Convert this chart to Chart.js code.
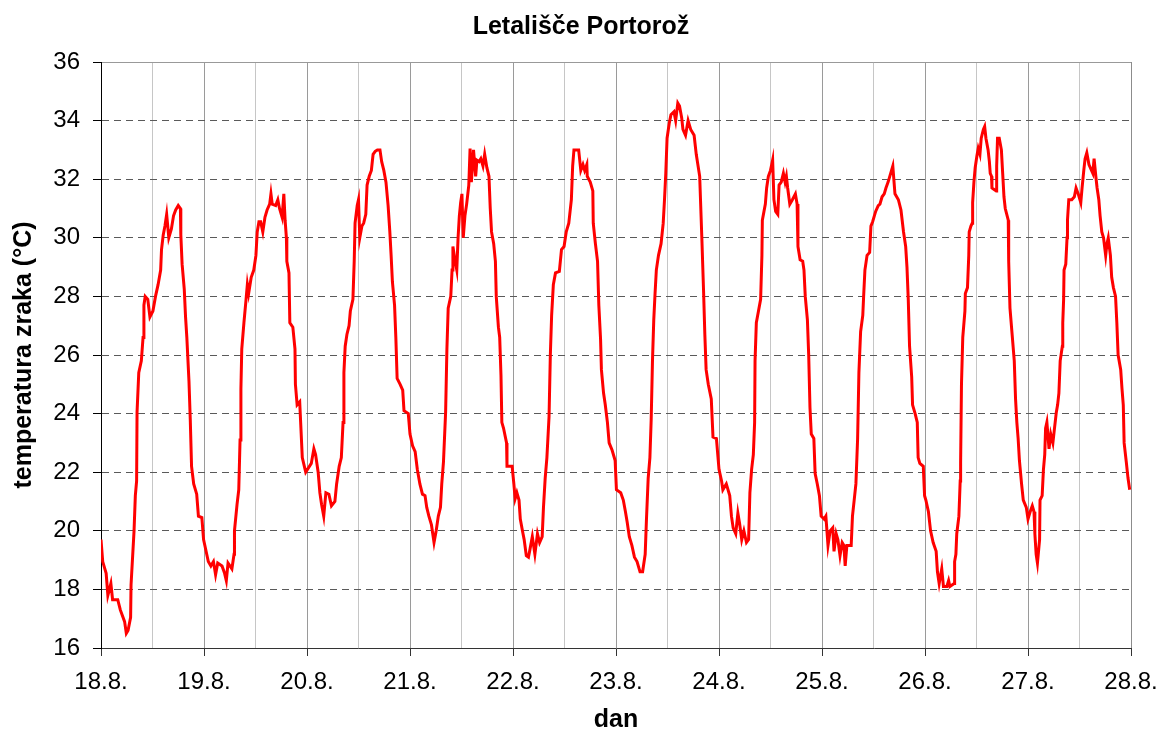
<!DOCTYPE html>
<html>
<head>
<meta charset="utf-8">
<script src="https://cdn.jsdelivr.net/npm/chart.js@4/dist/chart.umd.min.js"></script>
<style>
body { margin: 0; background: #fff; }
canvas { display: block; }
</style>
</head>
<body>
<canvas id="graf" width="1162" height="733"></canvas>
<script>
/* =========================
   DATA
========================= */

// x-axis labels (one per day)
const dni = ["18.8.","19.8.","20.8.","21.8.","22.8.","23.8.","24.8.","25.8.","26.8.","27.8.","28.8."];

// hours since 18.8. 00:00
const ure = [
0,0.4,1.2,1.6,2.3,2.7,3.9,4.5,5.5,5.9,6.3,6.9,7.0,7.7,8.0,8.3,8.4,8.8,9.4,9.8,
10.0,10.3,10.9,11.4,12.1,12.7,13.3,13.9,14.1,14.5,14.9,15.3,15.8,16.4,16.9,17.4,18.0,18.5,18.6,18.9,
19.4,19.7,20.0,20.5,20.8,21.1,21.6,22.3,22.7,23.5,23.9,24.2,25.0,25.6,26.2,26.7,27.2,28.2,28.8,29.2,
29.6,30.5,31.0,31.1,31.7,32.1,32.4,32.6,32.8,33.3,33.8,34.1,34.4,35.0,35.6,36.1,36.4,36.8,37.2,37.7,
38.2,38.7,39.3,39.6,39.9,40.7,41.2,41.6,42.2,42.6,42.9,43.2,43.3,43.8,44.0,44.7,45.2,45.3,45.7,
46.3,46.9,47.7,49.0,49.6,50.0,50.6,51.0,51.4,51.9,52.4,53.1,53.7,54.5,54.9,55.5,56.0,56.4,56.6,56.9,
57.3,57.8,58.1,58.7,59.0,59.2,59.7,60.0,60.3,60.8,61.2,61.7,62.0,62.5,63.0,63.4,63.9,64.4,65.0,65.4,
65.9,66.4,66.9,67.3,67.6,67.9,68.4,68.7,69.0,69.7,70.3,70.6,71.6,72.0,72.6,73.2,73.7,74.3,74.9,75.5,
75.9,76.4,77.0,77.6,78.1,78.6,79.1,79.4,79.8,80.3,80.6,80.9,81.5,81.8,82.0,82.4,82.9,83.2,83.5,83.8,
84.1,84.4,84.8,85.2,85.7,86.0,86.3,86.8,87.3,87.6,88.1,88.5,89.0,89.4,89.9,90.4,90.7,91.0,91.5,91.9,
92.1,92.6,92.9,93.2,93.4,93.8,94.5,94.6,95.8,96.2,96.5,96.9,97.4,97.7,98.2,98.6,99.1,99.6,100.0,100.5,
101.1,101.7,102.2,102.8,103.1,103.5,103.9,104.4,104.7,105.0,105.4,105.9,106.8,107.3,107.9,108.4,109.0,109.6,109.9,110.2,
111.3,111.8,112.3,112.7,113.2,113.3,114.0,114.6,114.7,115.2,115.7,116.0,116.4,116.6,117.1,117.5,118.0,118.4,119.1,119.8,
120.1,121.1,121.7,122.2,122.6,123.1,123.7,124.3,124.9,125.6,126.2,126.8,127.1,127.5,127.9,128.2,128.5,128.8,129.1,129.4,
129.9,130.5,131.0,131.3,131.6,131.9,132.4,132.8,133.5,133.9,134.4,134.8,135.3,135.6,136.2,136.8,137.4,138.2,138.7,139.5,
140.0,140.4,140.7,141.0,141.5,142.2,142.6,143.4,144.0,144.6,144.9,145.7,146.5,146.9,147.3,147.9,148.4,148.8,149.3,149.8,
150.4,150.9,151.2,151.6,152.0,152.3,152.4,152.7,153.2,153.7,154.0,154.1,154.8,155.1,155.5,156.0,156.5,156.8,157.2,157.7,
158.0,158.5,159.0,159.4,159.7,160.0,160.5,161.1,161.8,162.2,162.4,162.9,163.5,163.8,164.1,164.6,164.9,165.2,165.5,166.1,
166.4,166.9,167.4,167.8,168.5,168.9,169.4,169.9,170.5,170.8,171.3,171.7,172.2,172.7,173.1,173.4,173.8,174.4,174.8,175.1,
175.5,175.9,176.3,176.6,177.0,177.5,177.7,178.0,178.5,179.1,179.4,179.8,180.5,181.1,181.5,182.0,182.5,182.9,183.4,184.0,
184.5,185.0,185.8,186.4,187.0,187.5,187.8,188.1,188.4,188.9,189.1,189.7,190.2,190.4,190.8,191.6,191.9,192.2,192.8,193.3,
193.9,194.6,194.9,195.3,195.9,196.3,197.1,197.5,197.8,198.8,198.9,199.2,199.4,199.9,200.2,200.3,200.5,200.8,201.3,201.4,
201.9,202.2,202.3,202.7,203.0,203.1,203.4,203.7,204.1,204.4,204.8,205.1,205.6,205.9,206.2,206.7,207.0,207.2,207.5,207.6,
208.6,208.7,208.9,209.3,209.8,210.1,210.4,210.7,211.4,211.5,211.8,212.3,212.8,213.1,213.4,213.7,214.0,214.5,214.9,215.6,
216.0,216.5,217.0,217.4,217.6,217.9,218.2,218.7,218.8,219.3,219.6,219.9,220.1,220.4,220.9,221.3,221.8,222.1,222.6,222.9,
223.2,223.5,224.0,224.1,224.3,224.4,224.8,225.1,225.2,225.5,226.2,226.8,227.2,227.7,228.3,228.6,229.0,229.3,229.7,230.2,
230.8,231.1,231.4,231.8,232.1,232.5,232.8,233.2,233.6,234.1,234.4,234.7,235.2,235.5,235.9,236.4,236.7,237.0,237.6,237.9,
238.2,238.4,238.9,239.3,239.7
];

// air temperature (°C)
const temperatura = [
19.7,18.95,18.55,17.8,18.2,17.65,17.65,17.3,16.9,16.5,16.6,17.05,18.15,20.0,21.2,21.7,24.05,25.4,25.8,26.6,
27.7,28.0,27.9,27.3,27.5,28.0,28.4,28.9,29.6,30.1,30.4,30.8,30.0,30.3,30.75,30.95,31.1,31.0,30.1,29.1,
28.25,27.3,26.6,25.1,23.8,22.2,21.6,21.25,20.5,20.45,19.7,19.5,18.95,18.8,18.95,18.5,18.9,18.8,18.55,18.3,
18.9,18.7,19.2,20.0,20.9,21.4,23.1,24.85,26.2,27.1,27.9,28.4,28.1,28.65,28.9,29.4,30.2,30.55,30.55,30.2,
30.7,30.95,31.15,31.5,31.15,31.1,31.3,31.0,30.7,31.5,30.6,30.0,29.2,28.8,27.1,26.95,26.2,25.0,24.3,
24.4,22.5,22.0,22.3,22.8,22.6,22.0,21.3,20.9,20.5,21.3,21.25,20.85,21.0,21.6,22.2,22.5,23.7,25.4,26.3,
26.7,27.0,27.5,27.9,29.2,30.5,31.1,31.3,30.0,30.4,30.5,30.8,31.8,32.1,32.3,32.85,32.95,33.0,33.0,32.6,
32.3,31.9,31.1,30.2,29.4,28.5,27.7,26.6,25.2,25.0,24.8,24.1,24.0,23.3,22.9,22.7,22.1,21.6,21.25,21.2,
20.8,20.5,20.2,19.6,20.0,20.5,20.8,21.6,22.35,24.05,26.2,27.6,28.0,28.9,29.7,29.3,28.9,30.0,30.75,31.2,
31.5,30.0,30.75,31.15,31.8,33.05,31.9,33.0,32.1,32.65,32.6,32.7,32.45,32.85,32.4,32.1,31.0,30.2,29.8,29.2,
28.0,26.95,26.6,25.3,23.7,23.5,23.0,22.2,22.2,21.6,21.1,21.3,21.05,20.4,20.0,19.7,19.15,19.1,19.4,19.8,
19.2,19.9,19.6,19.8,20.8,21.8,22.5,23.9,26.0,27.35,28.4,28.8,28.85,29.6,29.7,30.2,30.5,31.3,32.45,33.0,
33.0,32.3,32.5,32.3,32.5,32.1,31.9,31.6,30.5,29.8,29.2,27.7,26.55,25.5,24.7,24.3,23.7,23.0,22.75,22.4,
21.4,21.3,21.05,20.65,20.3,19.8,19.5,19.1,18.95,18.6,18.6,19.2,20.4,21.8,22.5,23.8,25.8,27.2,28.1,28.9,
29.4,29.8,30.5,31.3,32.2,33.4,33.9,34.2,34.3,34.0,34.6,34.5,34.1,33.7,33.5,34.0,33.7,33.5,32.85,32.1,
30.0,28.2,26.7,25.5,25.0,24.5,23.2,23.15,22.1,21.7,21.4,21.6,21.2,20.5,20.1,19.9,20.6,20.25,19.7,20.0,
19.6,19.7,21.3,22.1,22.6,23.7,25.8,27.1,27.5,27.9,29.4,30.6,31.15,31.7,32.1,32.3,32.65,31.3,30.9,30.8,
31.8,31.9,32.2,31.9,32.1,31.7,31.15,31.3,31.5,31.15,29.7,29.25,29.2,28.9,28.0,27.2,26.0,24.2,23.3,23.15,
21.95,21.6,21.2,20.5,20.4,20.5,19.5,20.0,20.1,19.3,19.9,19.7,19.15,19.6,19.5,18.8,19.5,19.5,19.5,20.5,
21.05,21.6,23.15,25.4,26.8,27.35,28.0,28.9,29.4,29.5,30.4,30.55,30.9,31.1,31.15,31.4,31.5,31.7,31.9,32.2,
32.45,31.5,31.3,30.95,30.2,29.7,29.0,27.9,26.3,25.25,24.3,24.0,23.7,22.5,22.3,22.2,21.2,21.05,20.65,20.0,
19.6,19.3,18.6,18.2,18.7,18.1,18.1,18.3,18.1,18.2,18.95,19.2,19.9,20.5,21.7,22.35,25.0,26.6,27.5,28.1,
28.3,29.4,30.2,30.4,30.5,31.2,31.9,32.4,32.8,33.05,32.85,33.4,33.7,33.8,33.4,33.0,32.6,32.2,32.1,31.7,
31.6,32.45,33.4,33.4,33.0,32.2,31.4,31.0,30.6,29.2,27.6,26.7,25.8,24.5,23.7,23.15,22.4,21.6,21.05,20.8,
20.4,20.65,20.85,20.65,19.9,19.2,18.9,19.7,21.05,21.2,22.1,22.6,23.5,23.7,22.8,23.3,23.0,23.4,24.05,24.3,
24.7,25.8,26.3,27.1,27.9,28.9,29.1,30.0,30.6,31.3,31.3,31.4,31.7,31.5,31.2,31.7,32.3,32.7,32.9,32.5,
32.3,32.2,32.7,32.1,31.7,31.3,30.75,30.2,30.0,29.4,29.8,30.0,29.4,28.65,28.3,28.0,27.1,26.0,25.5,24.85,
24.3,23.0,22.35,21.8,21.4
];

// y-axis range
const yMin = 16, yMax = 36, yKorak = 2;

/* =========================
   CHART
========================= */

const tocke = ure.map((h, i) => ({ x: h, y: temperatura[i] }));
const pisava = "Liberation Sans, Arial, sans-serif";

new Chart(document.getElementById("graf"), {
  type: "line",
  data: {
    datasets: [{
      data: tocke,
      borderColor: "#ff0000",
      borderWidth: 3,
      pointRadius: 0,
      tension: 0,
      fill: false
    }]
  },
  options: {
    responsive: false,
    animation: false,
    devicePixelRatio: 1,
    layout: { padding: 0 },
    plugins: {
      legend: { display: false },
      tooltip: { enabled: false },
      title: {
        display: true,
        text: "Letališče Portorož",
        color: "#000",
        font: { family: pisava, size: 25, weight: "bold", lineHeight: 1.2 },
        padding: { top: 12, bottom: 20 }
      }
    },
    scales: {
      x: {
        type: "linear",
        min: 0,
        max: 240,
        // fixed plot box: 85px below, 31px right margin
        afterFit: s => { s.height = 85; s.paddingRight = 31; },
        ticks: {
          stepSize: 12,
          autoSkip: false,
          maxRotation: 0,
          color: "#000",
          padding: 12,
          font: { family: pisava, size: 24 },
          callback: v => (v % 24 === 0 ? dni[v / 24] : "")
        },
        grid: {
          color: c => {
            const v = c.tick.value;
            if (v === 0) return "rgba(0,0,0,0)";
            if (v === 240) return "#8c8c8c";
            return v % 24 === 0 ? "#9a9a9a" : "#c6c6c6";
          },
          tickColor: c => (c.tick.value % 24 === 0 ? "#333" : "rgba(0,0,0,0)"),
          tickLength: 8,
          lineWidth: 1
        },
        border: { color: "#333", width: 1 },
        title: {
          display: true,
          text: "dan",
          color: "#000",
          font: { family: pisava, size: 25, weight: "bold", lineHeight: 1.0 },
          padding: { top: 0, bottom: 0 }
        }
      },
      y: {
        min: yMin,
        max: yMax,
        afterFit: s => { s.width = 101; },
        ticks: {
          stepSize: yKorak,
          color: "#000",
          padding: 13,
          font: { family: pisava, size: 24 }
        },
        grid: {
          color: c => {
            const v = c.tick.value;
            if (v === yMin) return "rgba(0,0,0,0)";
            if (v === yMax) return "#999";
            return "#5a5a5a";
          },
          tickColor: "#000",
          tickLength: 8,
          lineWidth: 1
        },
        border: {
          color: "#000",
          width: 1,
          dash: c => (c.tick && c.tick.value === yMax ? [] : [7, 5])
        },
        title: {
          display: true,
          text: "temperatura zraka (°C)",
          color: "#000",
          font: { family: pisava, size: 25, weight: "bold", lineHeight: 1.2 },
          padding: { top: 9, bottom: 0 }
        }
      }
    }
  }
});
</script>
</body>
</html>
